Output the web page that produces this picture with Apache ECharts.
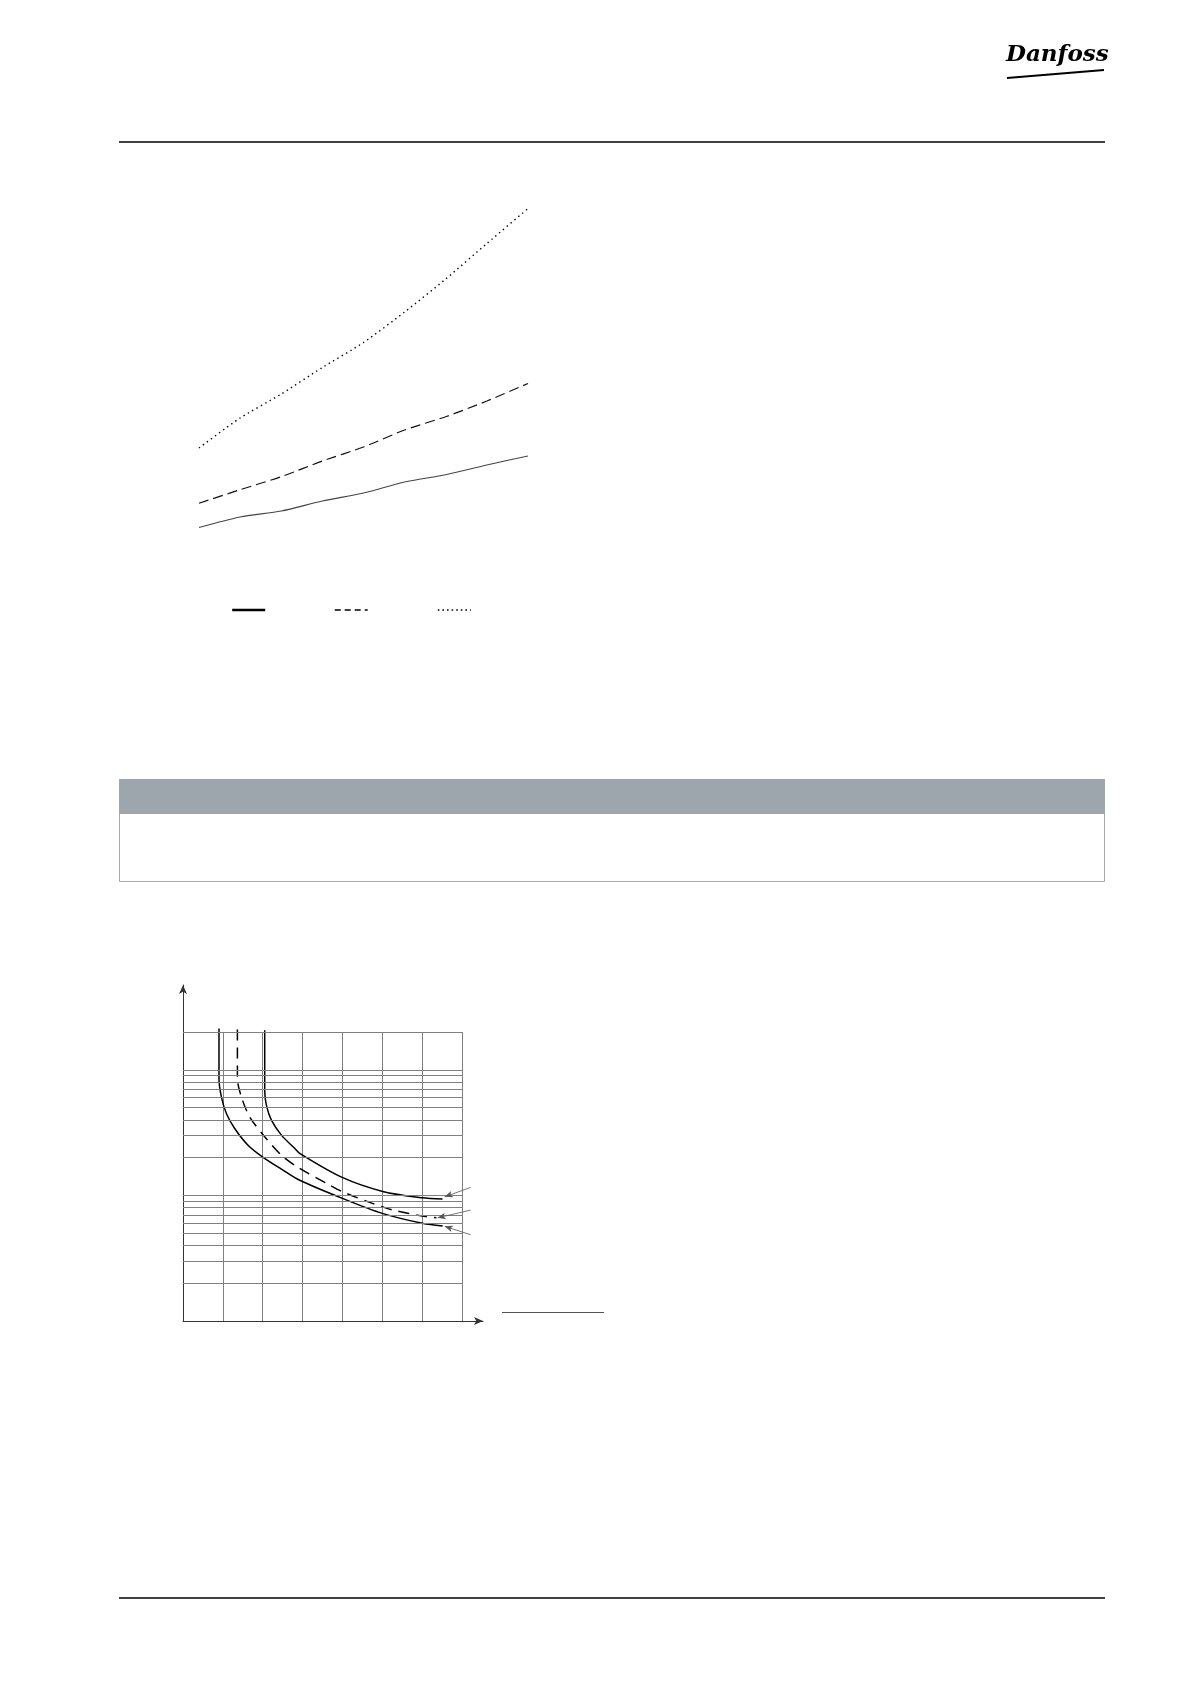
<!DOCTYPE html>
<html>
<head>
<meta charset="utf-8">
<script src="https://cdn.jsdelivr.net/npm/echarts@6/dist/echarts.min.js"></script>
<style>
html,body{margin:0;padding:0;background:#fff;}
#main{width:1191px;height:1684px;}
</style>
</head>
<body>
<div id="main"></div>
<script>
// ---- Chart 1 (three rising curves) ----
const chart1X = [0, 1, 2, 3, 4, 5, 6, 7, 8];
const solidY  = [12.5, 23, 29, 39, 47, 58, 65.3, 75, 84];
const dashedY = [36.7, 50.3, 63.3, 79, 93, 110, 123.3, 139, 156.5];
const dottedY = [92, 122, 146, 172.5, 197.5, 228, 261, 296.5, 331.5];

// ---- Chart 2 (log-scale grid, three falling curves) ----
const curveAX = [0.903, 0.903, 0.963, 1.089, 1.297, 1.631, 2.0, 2.469, 2.928, 4.0, 5.0, 6.006, 6.515];
const curveAY = [213, 85.3, 60.9, 44.9, 34.1, 25.1, 20.2, 16.2, 13.2, 9.47, 7.19, 5.99, 5.70];
const curveBX = [1.365, 1.365, 1.465, 1.673, 2.05, 2.469, 2.928, 3.598, 4.0, 4.684, 5.0, 5.27, 6.006, 6.357];
const curveBY = [209.3, 85.3, 60.9, 42.2, 29.3, 20.9, 16.4, 12.5, 10.7, 8.8, 8.12, 7.64, 6.84, 6.63];
const curveCX = [2.05, 2.05, 2.092, 2.218, 2.469, 2.802, 2.928, 3.994, 5.01, 6.0, 6.51];
const curveCY = [206.6, 68.8, 52.3, 39.7, 30.2, 23.7, 21.6, 13.9, 10.76, 9.57, 9.35];
const gridLogValues = [2, 3, 4, 5, 6, 7, 8, 9, 10, 20, 30, 40, 50, 60, 70, 80, 90, 100, 200];
// leader lines: [fromX, fromY, toX, toY]
const leaders = [
  [7.218, 11.58, 6.567, 9.75],
  [7.218, 7.64, 6.39, 6.63],
  [7.218, 4.86, 6.567, 5.67]
];

const zip = (xs, ys) => xs.map((x, i) => [x, ys[i]]);

const chart = echarts.init(document.getElementById('main'), null, {renderer: 'canvas'});

const hiddenAxis = (extra) => Object.assign({
  axisLine: {show: false}, axisTick: {show: false}, axisLabel: {show: false}, splitLine: {show: false}
}, extra);

const arrowAxisLine = {show: true, onZero: false, symbol: ['none', 'arrow'], symbolSize: [6, 9], lineStyle: {color: '#333', width: 1}};

const legendCommon = {top: 603, itemWidth: 33, itemHeight: 14, padding: 0, selectedMode: false, formatter: () => ''};

const option = {
  animation: false,
  backgroundColor: '#ffffff',
  grid: [
    {left: 199, top: 190, width: 329, height: 350},
    {left: 183, top: 1032, width: 279, height: 289},
    // same scales as grid 1, but extended to the arrow tips
    {left: 183, top: 985, width: 300, height: 336}
  ],
  xAxis: [
    hiddenAxis({type: 'value', gridIndex: 0, min: 0, max: 8}),
    {type: 'value', gridIndex: 1, min: 0, max: 7, interval: 1,
     axisLine: {show: false}, axisTick: {show: false}, axisLabel: {show: false},
     splitLine: {show: true, lineStyle: {color: '#7f7f7f', width: 1}}},
    {type: 'value', gridIndex: 2, min: 0, max: 300 / 279 * 7,
     axisLine: arrowAxisLine, axisTick: {show: false}, axisLabel: {show: false}, splitLine: {show: false}}
  ],
  yAxis: [
    hiddenAxis({type: 'value', gridIndex: 0, min: 0, max: 350}),
    hiddenAxis({type: 'log', logBase: 10, gridIndex: 1, min: 1, max: 200}),
    {type: 'log', logBase: 10, gridIndex: 2, min: 1, max: Math.pow(200, 336 / 289),
     axisLine: arrowAxisLine, axisTick: {show: false}, axisLabel: {show: false}, splitLine: {show: false}}
  ],
  legend: [
    Object.assign({left: 231, data: [{name: 'solid', itemStyle: {opacity: 0}, lineStyle: {width: 2.4, color: '#000', type: 'solid'}}]}, legendCommon),
    Object.assign({left: 334, data: [{name: 'dashed', itemStyle: {opacity: 0}, lineStyle: {width: 1.4, color: '#000', type: [6, 4]}}]}, legendCommon),
    Object.assign({left: 437, data: [{name: 'dotted', itemStyle: {opacity: 0}, lineStyle: {width: 1.6, color: '#000', type: [1.6, 3]}}]}, legendCommon)
  ],
  series: [
    {name: 'solid', type: 'line', xAxisIndex: 0, yAxisIndex: 0, symbol: 'none', smooth: 0.25,
     itemStyle: {color: '#000'},
     lineStyle: {color: '#444', width: 1.1, type: 'solid'}, data: zip(chart1X, solidY)},
    {name: 'dashed', type: 'line', xAxisIndex: 0, yAxisIndex: 0, symbol: 'none', smooth: 0.25,
     itemStyle: {color: '#000'},
     lineStyle: {color: '#111', width: 1.2, type: [10, 5]}, data: zip(chart1X, dashedY)},
    {name: 'dotted', type: 'line', xAxisIndex: 0, yAxisIndex: 0, symbol: 'none', smooth: 0.25,
     itemStyle: {color: '#000'},
     lineStyle: {color: '#000', width: 1.4, type: [1.4, 3.6]}, data: zip(chart1X, dottedY)},

    // horizontal log grid lines of chart 2
    {name: 'grid', type: 'line', xAxisIndex: 1, yAxisIndex: 1, data: [], z: 1, clip: false,
     markLine: {silent: true, symbol: ['none', 'none'], label: {show: false}, animation: false,
       lineStyle: {color: '#7f7f7f', width: 1, type: 'solid'},
       data: gridLogValues.map(v => ({yAxis: v}))}},
    // leader arrows (extended grid with identical scale)
    {name: 'leaders', type: 'line', xAxisIndex: 2, yAxisIndex: 2, data: [], z: 4, clip: false,
     markLine: {silent: true, symbol: ['none', 'arrow'], symbolSize: [5, 8], label: {show: false}, animation: false,
       lineStyle: {color: '#555', width: 0.8, type: 'solid'},
       data: leaders.map(l => [{coord: [l[0], l[1]]}, {coord: [l[2], l[3]]}])}},

    {name: 'curveA', type: 'line', xAxisIndex: 1, yAxisIndex: 1, symbol: 'none', smooth: 0.3, clip: false, z: 3,
     lineStyle: {color: '#000', width: 1.5, type: 'solid'}, data: zip(curveAX, curveAY)},
    {name: 'curveB', type: 'line', xAxisIndex: 1, yAxisIndex: 1, symbol: 'none', smooth: 0.3, clip: false, z: 3,
     lineStyle: {color: '#000', width: 1.5, type: [11, 7]}, data: zip(curveBX, curveBY)},
    {name: 'curveC', type: 'line', xAxisIndex: 1, yAxisIndex: 1, symbol: 'none', smooth: 0.3, clip: false, z: 3,
     lineStyle: {color: '#000', width: 1.5, type: 'solid'}, data: zip(curveCX, curveCY)}
  ],
  graphic: [
    {type: 'line', shape: {x1: 119, y1: 142, x2: 1105, y2: 142}, style: {stroke: '#000', lineWidth: 1.5}},
    {type: 'line', shape: {x1: 119, y1: 1598, x2: 1105, y2: 1598}, style: {stroke: '#000', lineWidth: 1.5}},
    {type: 'text', left: 1006, top: 44,
     style: {text: 'Danfoss', fill: '#000', font: 'italic bold 23px "DejaVu Serif"'}},
    {type: 'line', shape: {x1: 1007, y1: 78, x2: 1104, y2: 70}, style: {stroke: '#000', lineWidth: 2}},
    {type: 'rect', shape: {x: 119.5, y: 779.5, width: 985, height: 102}, style: {fill: '#fff', stroke: '#aaaaaa', lineWidth: 1}},
    {type: 'rect', shape: {x: 119, y: 779, width: 986, height: 35}, style: {fill: '#9da6ad'}},
    {type: 'line', shape: {x1: 502, y1: 1312.5, x2: 604, y2: 1312.5}, style: {stroke: '#555', lineWidth: 1}}
  ]
};
chart.setOption(option);
</script>
</body>
</html>
